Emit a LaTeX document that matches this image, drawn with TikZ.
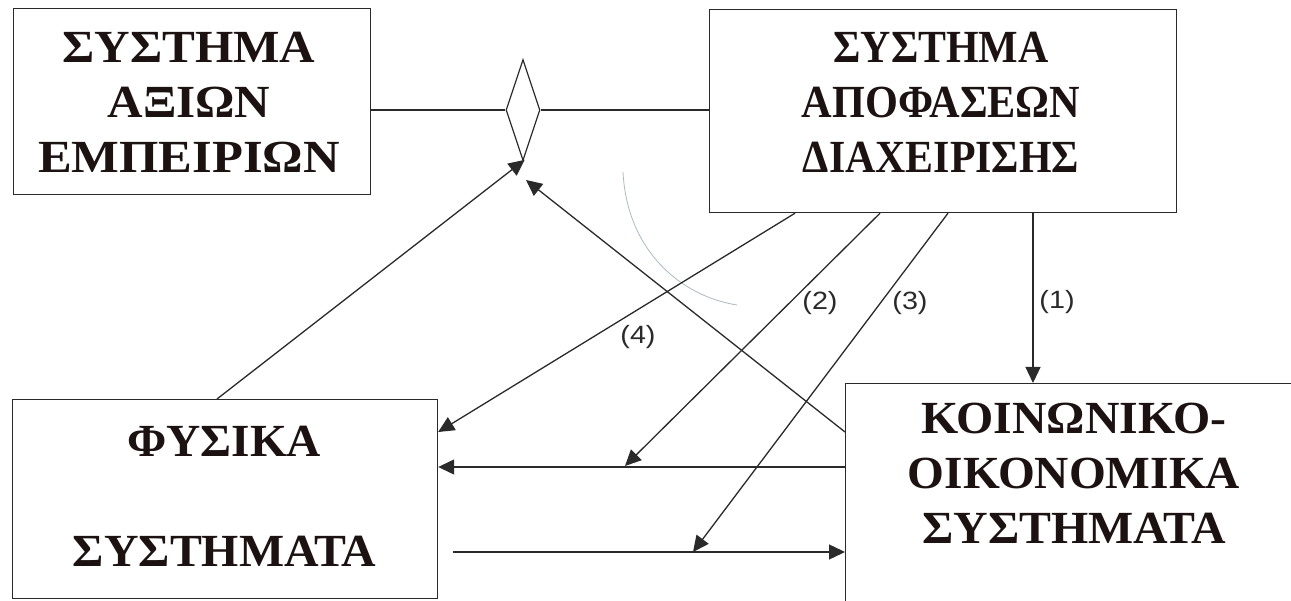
\documentclass[tikz,border=0pt]{standalone}
\usepackage{fontspec}
\setmainfont{Liberation Serif}
\newfontfamily\lblfont{Liberation Sans}
\usetikzlibrary{shapes.geometric,arrows.meta,calc}
\definecolor{ink}{HTML}{1C1212}
\definecolor{linec}{HTML}{2A2A2A}
\definecolor{arcc}{RGB}{175,185,195}
\newcommand{\sx}[2]{\scalebox{#1}[1]{#2}}
\tikzset{
  boxnode/.style={draw=linec, line width=1.2pt, inner sep=0pt, anchor=north west, fill=none},
  bigtext/.style={text=ink, align=center, inner sep=0pt, font=\fontsize{46}{55}\selectfont\bfseries},
  conn/.style={draw=linec, line width=1.3pt},
  arr/.style={draw=linec, line width=1.3pt, -{Triangle[length=16pt,width=15pt]}},
  lbl/.style={text=linec, inner sep=0pt, font=\lblfont\fontsize{25}{28}\selectfont}
}
\begin{document}
\begin{tikzpicture}[x=1pt,y=-1pt]
\useasboundingbox (0,0) rectangle (1291,601);
\fill[white] (0,0) rectangle (1291,601);

% boxes
\node[boxnode, minimum width=357pt, minimum height=186pt] (A) at (13,8) {};
\node[boxnode, minimum width=467pt, minimum height=203pt] (B) at (709,9) {};
\node[boxnode, minimum width=425pt, minimum height=199pt] (C) at (12,399) {};
\node[boxnode, minimum width=470pt, minimum height=240pt] (D) at (845,383) {};

% texts
\node[bigtext] (tA) at (189,102.5) {\sx{1.07}{ΣΥΣΤΗΜΑ}\\\sx{1.07}{ΑΞΙΩΝ}\\\sx{1.1}{ΕΜΠΕΙΡΙΩΝ}};
\node[bigtext] (tB) at (941,102.5) {\sx{0.91}{ΣΥΣΤΗΜΑ}\\\sx{0.92}{ΑΠΟΦΑΣΕΩΝ}\\\sx{0.91}{ΔΙΑΧΕΙΡΙΣΗΣ}};
\node[bigtext] (tC) at (224.5,496.5) {\sx{1.03}{ΦΥΣΙΚΑ}\\~\\\sx{1.04}{ΣΥΣΤΗΜΑΤΑ}};
\node[bigtext] (tD) at (1074,473.5) {\sx{1.04}{ΚΟΙΝΩΝΙΚΟ-}\\\sx{1.03}{ΟΙΚΟΝΟΜΙΚΑ}\\\sx{1.04}{ΣΥΣΤΗΜΑΤΑ}};

% diamond
\node[diamond, draw=linec, line width=1.2pt, minimum width=34pt, minimum height=101pt, inner sep=0pt] (dia) at (523,110) {};

% faint arc
\draw[arcc, line width=0.8pt] (623,172) .. controls (627,250) and (680,296) .. (737,305);

% connectors
\draw[conn] (dia.west -| A.east) -- (dia.west);
\draw[conn] (dia.east) -- (dia.east -| B.west);

\draw[arr] ($(B.south west)+(324,0)$) coordinate (s1) -- (s1 |- D.north);
\coordinate (e2) at (625,466);
\draw[arr] ($(B.south west)+(171,0)$) -- (e2);
\coordinate (e3) at (693,552);
\draw[arr] ($(B.south west)+(239,0)$) -- (e3);
\draw[arr] ($(B.south west)+(86,0)$) -- ($(C.north east)+(0,33)$);

\draw[arr] ($(D.north west)+(0,84)$) coordinate (h1) -- (h1 -| C.east);
\coordinate (s5) at (453,552);
\draw[arr] (s5) -- (s5 -| D.west);

\draw[arr, shorten >=-2pt] ($(C.north west)+(205,0)$) -- (dia.south);
\coordinate (e7) at (526,180);
\draw[arr] ($(D.north west)+(0,49)$) -- (e7);

% labels
\node[lbl] (l1) at (1057,302) {\sx{1.15}{(1)}};
\node[lbl] (l2) at (820,303) {\sx{1.15}{(2)}};
\node[lbl] (l3) at (910,303) {\sx{1.15}{(3)}};
\node[lbl] (l4) at (638,337) {\sx{1.15}{(4)}};
\end{tikzpicture}
\end{document}
